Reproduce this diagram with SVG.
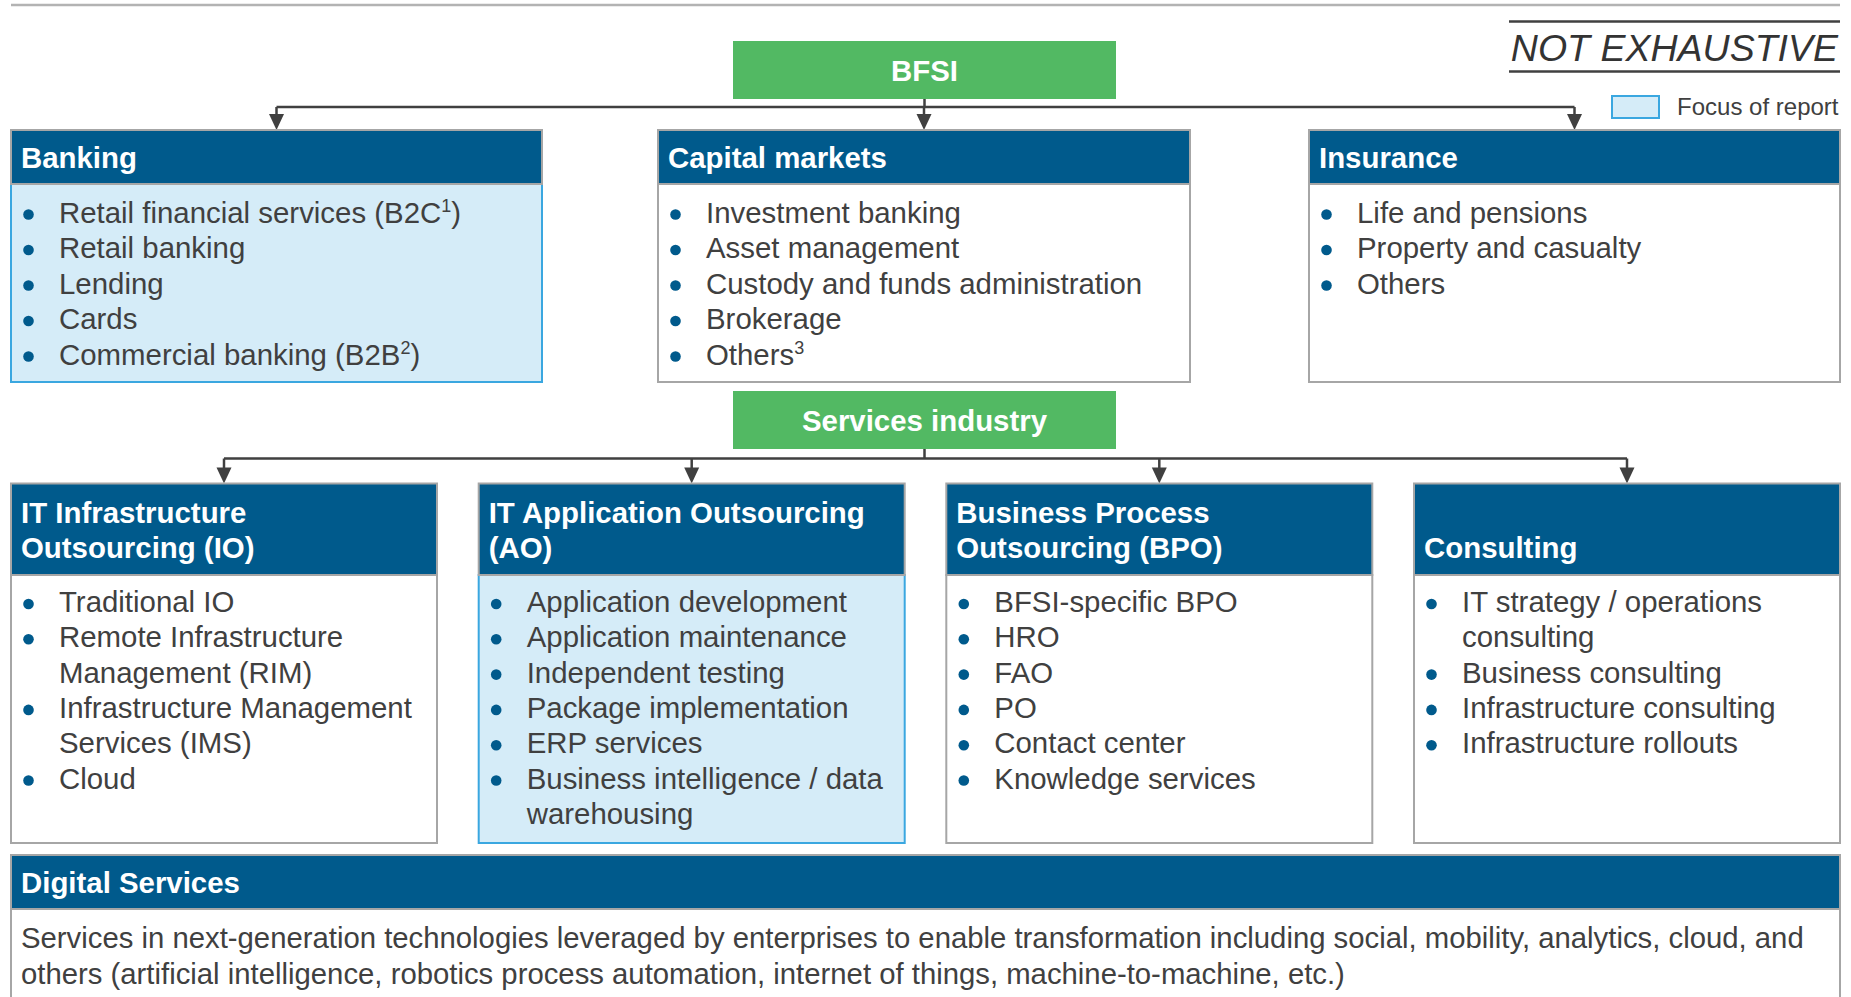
<svg xmlns="http://www.w3.org/2000/svg" width="1851" height="997" viewBox="0 0 1851 997">
<style>
text{font-family:"Liberation Sans",Arial,sans-serif}
.hd{fill:#005a8c;stroke:#a6a6a6;stroke-width:2}
.bw{fill:#ffffff;stroke:#a6a6a6;stroke-width:2}
.bf{fill:#d5ecf8;stroke:#3aa7e0;stroke-width:2}
.gr{fill:#52b963}
.ht{font-size:29.4px;font-weight:bold;fill:#ffffff}
.gt{font-size:29.4px;font-weight:bold;fill:#ffffff;text-anchor:middle}
.it{font-size:29.4px;fill:#404040}
.sup{font-size:18px}
.bl{fill:#005a8c}
.cn{fill:none;stroke:#404040;stroke-width:2.5}
.ah{fill:#404040}
</style>
<line x1="11" y1="5" x2="1840" y2="5" stroke="#b3b3b3" stroke-width="2.5"/>
<g id="not-exhaustive">
<line x1="1509" y1="21.5" x2="1840" y2="21.5" stroke="#404040" stroke-width="2.5"/>
<line x1="1509" y1="71.5" x2="1840" y2="71.5" stroke="#404040" stroke-width="2.5"/>
<text x="1838" y="61" font-size="37.5" font-style="italic" fill="#333333" text-anchor="end">NOT EXHAUSTIVE</text>
</g>
<g id="legend">
<rect x="1612" y="96" width="47" height="22" fill="#d5ecf8" stroke="#3aa7e0" stroke-width="2"/>
<text x="1838.5" y="115" font-size="24" fill="#404040" text-anchor="end">Focus of report</text>
</g>
<g id="connectors">
<path class="cn" d="M924.5,99 V107 M276.5,107 H1574.5"/>
<path class="cn" d="M276.5,107 V118"/>
<path class="cn" d="M924,107 V118"/>
<path class="cn" d="M1574.5,107 V118"/>
<path class="cn" d="M924.5,449 V458.5 M224,458.5 H1627"/>
<path class="cn" d="M224,458.5 V470"/>
<path class="cn" d="M691.7,458.5 V470"/>
<path class="cn" d="M1159.3,458.5 V470"/>
<path class="cn" d="M1627,458.5 V470"/>
<path class="ah" d="M269,114 H284 L276.5,130 Z"/>
<path class="ah" d="M916.5,114 H931.5 L924,130 Z"/>
<path class="ah" d="M1567,114 H1582 L1574.5,130 Z"/>
<path class="ah" d="M216.5,467.5 H231.5 L224,483.5 Z"/>
<path class="ah" d="M684.2,467.5 H699.2 L691.7,483.5 Z"/>
<path class="ah" d="M1151.8,467.5 H1166.8 L1159.3,483.5 Z"/>
<path class="ah" d="M1619.5,467.5 H1634.5 L1627,483.5 Z"/>
</g>
<g id="bfsi">
<rect class="gr" x="733" y="41" width="383" height="58"/>
<text class="gt" x="924.5" y="80.5">BFSI</text>
</g>
<g id="banking">
<rect class="bf" x="11" y="184" width="531" height="198"/>
<rect class="hd" x="11" y="130" width="531" height="54"/>
<text class="ht" x="21" y="168">Banking</text>
<g class="bl"><circle cx="28.5" cy="214.5" r="5.3"/><circle cx="28.5" cy="250" r="5.3"/><circle cx="28.5" cy="285.5" r="5.3"/><circle cx="28.5" cy="321" r="5.3"/><circle cx="28.5" cy="356.5" r="5.3"/></g>
<text class="it" x="59" y="222.5">Retail financial services (B2C<tspan class="sup" dy="-11">1</tspan><tspan dy="11">)</tspan></text>
<text class="it" x="59" y="258">Retail banking</text>
<text class="it" x="59" y="293.5">Lending</text>
<text class="it" x="59" y="329">Cards</text>
<text class="it" x="59" y="364.5">Commercial banking (B2B<tspan class="sup" dy="-11">2</tspan><tspan dy="11">)</tspan></text>
</g>
<g id="capital-markets">
<rect class="bw" x="658" y="184" width="532" height="198"/>
<rect class="hd" x="658" y="130" width="532" height="54"/>
<text class="ht" x="668" y="168">Capital markets</text>
<g class="bl"><circle cx="675.5" cy="214.5" r="5.3"/><circle cx="675.5" cy="250" r="5.3"/><circle cx="675.5" cy="285.5" r="5.3"/><circle cx="675.5" cy="321" r="5.3"/><circle cx="675.5" cy="356.5" r="5.3"/></g>
<text class="it" x="706" y="222.5">Investment banking</text>
<text class="it" x="706" y="258">Asset management</text>
<text class="it" x="706" y="293.5">Custody and funds administration</text>
<text class="it" x="706" y="329">Brokerage</text>
<text class="it" x="706" y="364.5">Others<tspan class="sup" dy="-11">3</tspan></text>
</g>
<g id="insurance">
<rect class="bw" x="1309" y="184" width="531" height="198"/>
<rect class="hd" x="1309" y="130" width="531" height="54"/>
<text class="ht" x="1319" y="168">Insurance</text>
<g class="bl"><circle cx="1326.5" cy="214.5" r="5.3"/><circle cx="1326.5" cy="250" r="5.3"/><circle cx="1326.5" cy="285.5" r="5.3"/></g>
<text class="it" x="1357" y="222.5">Life and pensions</text>
<text class="it" x="1357" y="258">Property and casualty</text>
<text class="it" x="1357" y="293.5">Others</text>
</g>
<g id="services-industry">
<rect class="gr" x="733" y="391" width="383" height="58"/>
<text class="gt" x="924.5" y="430.5">Services industry</text>
</g>
<g id="io">
<rect class="bw" x="11" y="575" width="426" height="268"/>
<rect class="hd" x="11" y="483.5" width="426" height="91.5"/>
<text class="ht" x="21" y="523">IT Infrastructure</text>
<text class="ht" x="21" y="558">Outsourcing (IO)</text>
<g class="bl"><circle cx="28.5" cy="604" r="5.3"/><circle cx="28.5" cy="639.3" r="5.3"/><circle cx="28.5" cy="709.9" r="5.3"/><circle cx="28.5" cy="780.5" r="5.3"/></g>
<text class="it" x="59" y="612">Traditional IO</text>
<text class="it" x="59" y="647.3">Remote Infrastructure</text>
<text class="it" x="59" y="682.6">Management (RIM)</text>
<text class="it" x="59" y="717.9">Infrastructure Management</text>
<text class="it" x="59" y="753.2">Services (IMS)</text>
<text class="it" x="59" y="788.5">Cloud</text>
</g>
<g id="ao">
<rect class="bf" x="478.7" y="575" width="426" height="268"/>
<rect class="hd" x="478.7" y="483.5" width="426" height="91.5"/>
<text class="ht" x="488.7" y="523">IT Application Outsourcing</text>
<text class="ht" x="488.7" y="558">(AO)</text>
<g class="bl"><circle cx="496.2" cy="604" r="5.3"/><circle cx="496.2" cy="639.3" r="5.3"/><circle cx="496.2" cy="674.6" r="5.3"/><circle cx="496.2" cy="709.9" r="5.3"/><circle cx="496.2" cy="745.2" r="5.3"/><circle cx="496.2" cy="780.5" r="5.3"/></g>
<text class="it" x="526.7" y="612">Application development</text>
<text class="it" x="526.7" y="647.3">Application maintenance</text>
<text class="it" x="526.7" y="682.6">Independent testing</text>
<text class="it" x="526.7" y="717.9">Package implementation</text>
<text class="it" x="526.7" y="753.2">ERP services</text>
<text class="it" x="526.7" y="788.5">Business intelligence / data</text>
<text class="it" x="526.7" y="823.8">warehousing</text>
</g>
<g id="bpo">
<rect class="bw" x="946.3" y="575" width="426" height="268"/>
<rect class="hd" x="946.3" y="483.5" width="426" height="91.5"/>
<text class="ht" x="956.3" y="523">Business Process</text>
<text class="ht" x="956.3" y="558">Outsourcing (BPO)</text>
<g class="bl"><circle cx="963.8" cy="604" r="5.3"/><circle cx="963.8" cy="639.3" r="5.3"/><circle cx="963.8" cy="674.6" r="5.3"/><circle cx="963.8" cy="709.9" r="5.3"/><circle cx="963.8" cy="745.2" r="5.3"/><circle cx="963.8" cy="780.5" r="5.3"/></g>
<text class="it" x="994.3" y="612">BFSI-specific BPO</text>
<text class="it" x="994.3" y="647.3">HRO</text>
<text class="it" x="994.3" y="682.6">FAO</text>
<text class="it" x="994.3" y="717.9">PO</text>
<text class="it" x="994.3" y="753.2">Contact center</text>
<text class="it" x="994.3" y="788.5">Knowledge services</text>
</g>
<g id="consulting">
<rect class="bw" x="1414" y="575" width="426" height="268"/>
<rect class="hd" x="1414" y="483.5" width="426" height="91.5"/>
<text class="ht" x="1424" y="558">Consulting</text>
<g class="bl"><circle cx="1431.5" cy="604" r="5.3"/><circle cx="1431.5" cy="674.6" r="5.3"/><circle cx="1431.5" cy="709.9" r="5.3"/><circle cx="1431.5" cy="745.2" r="5.3"/></g>
<text class="it" x="1462" y="612">IT strategy / operations</text>
<text class="it" x="1462" y="647.3">consulting</text>
<text class="it" x="1462" y="682.6">Business consulting</text>
<text class="it" x="1462" y="717.9">Infrastructure consulting</text>
<text class="it" x="1462" y="753.2">Infrastructure rollouts</text>
</g>
<g id="digital-services">
<rect class="bw" x="11" y="909" width="1829" height="100"/>
<rect class="hd" x="11" y="855" width="1829" height="54"/>
<text class="ht" x="21" y="893">Digital Services</text>
<text class="it" x="21" y="948" style="font-size:29.3px">Services in next-generation technologies leveraged by enterprises to enable transformation including social, mobility, analytics, cloud, and</text>
<text class="it" x="21" y="983.5" style="font-size:29.3px">others (artificial intelligence, robotics process automation, internet of things, machine-to-machine, etc.)</text>
</g>
</svg>
